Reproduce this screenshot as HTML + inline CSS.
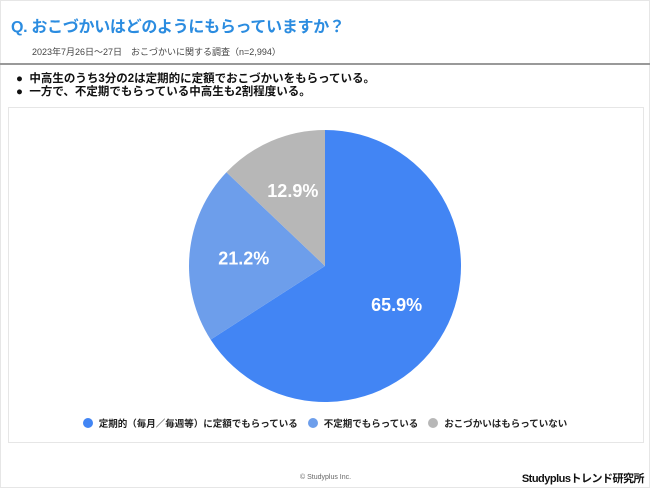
<!DOCTYPE html>
<html><head><meta charset="utf-8"><style>
body{margin:0;width:650px;height:488px;background:#fff;font-family:"Liberation Sans","Noto Sans CJK JP",sans-serif;overflow:hidden;position:relative}
.frame{position:absolute;left:0;top:0;width:648px;height:486px;border:1px solid #e6e6e6}
.title{position:absolute;left:11px;top:13px;font-size:16px;font-weight:bold;color:#2b8ce0;letter-spacing:-0.3px}
.sub{position:absolute;left:32px;top:45px;font-size:9px;color:#444}
.sep{position:absolute;left:0;top:63px;width:650px;height:2px;background:#999}
.notes{position:absolute;left:16px;top:73px;font-size:11.5px;font-weight:bold;color:#111;line-height:13px}
.box{position:absolute;left:8px;top:107px;width:634px;height:334px;border:1px solid #e6e6e6}
.legend{position:absolute;top:416px;left:0;width:650px;font-size:9.5px;font-weight:bold;color:#222;display:flex;justify-content:center;gap:10px}
.legend span{display:flex;align-items:center;gap:6px}
.dot{width:10px;height:10px;border-radius:50%;display:inline-block}
.copy{position:absolute;left:300px;top:474px;font-size:7px;color:#666}
.brand{position:absolute;right:6px;top:470px;font-size:11px;font-weight:bold;color:#111;letter-spacing:-0.5px}
</style></head><body>
<div class="frame"></div>
<div class="title">Q. おこづかいはどのようにもらっていますか？</div>
<div class="sub">2023年7月26日～27日　おこづかいに関する調査（n=2,994）</div>
<div class="sep"></div>
<div class="notes">●&nbsp; 中高生のうち3分の2は定期的に定額でおこづかいをもらっている。<br>●&nbsp; 一方で、不定期でもらっている中高生も2割程度いる。</div>
<div class="box"></div>
<svg id="pie" width="650" height="488" style="position:absolute;left:0;top:0"></svg>
<div class="legend">
<span><i class="dot" style="background:#4285f4"></i>定期的（毎月／毎週等）に定額でもらっている</span>
<span><i class="dot" style="background:#6d9eeb"></i>不定期でもらっている</span>
<span><i class="dot" style="background:#b7b7b7"></i>おこづかいはもらっていない</span>
</div>
<div class="copy">© Studyplus Inc.</div>
<div class="brand">Studyplusトレンド研究所</div>
<script>
const categories=["定期的（毎月／毎週等）に定額でもらっている","不定期でもらっている","おこづかいはもらっていない"];
const values=[65.9,21.2,12.9];
const labels=["65.9%","21.2%","12.9%"];
const colors=["#4285f4","#6d9eeb","#b7b7b7"];
const svg=document.getElementById('pie');const NS="http://www.w3.org/2000/svg";
const cx=325,cy=266,r=136;
const total=values.reduce((a,b)=>a+b,0);
function pt(a,rr){return [cx+rr*Math.sin(a),cy-rr*Math.cos(a)];}
let start=0;
values.forEach((v,i)=>{
 const ang=v/total*2*Math.PI,end=start+ang;
 const p0=pt(start,r),p1=pt(end,r);
 const path=document.createElementNS(NS,'path');
 path.setAttribute('d',`M${cx},${cy}L${p0[0]},${p0[1]}A${r},${r} 0 ${ang>Math.PI?1:0} 1 ${p1[0]},${p1[1]}Z`);
 path.setAttribute('fill',colors[i]);
 
 
 svg.appendChild(path);
 const m=pt(start+ang/2,r*0.6);
 const t=document.createElementNS(NS,'text');
 t.setAttribute('x',m[0]);t.setAttribute('y',m[1]+6);
 t.setAttribute('text-anchor','middle');t.setAttribute('fill','#fff');
 t.setAttribute('font-size','18');t.setAttribute('font-weight','bold');
 t.setAttribute('font-family','Liberation Sans, sans-serif');
 t.textContent=labels[i];
 
 
 svg.appendChild(t);
 start=end;
});
</script>
</body></html>
